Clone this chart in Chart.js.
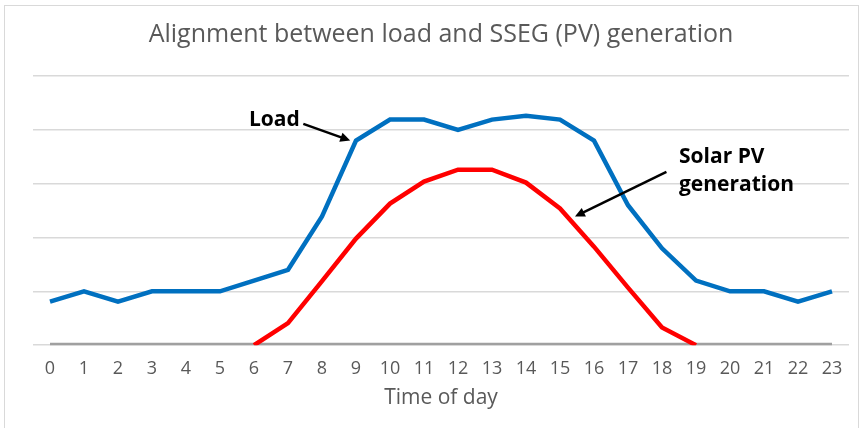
<!DOCTYPE html>
<html>
<head>
<meta charset="utf-8">
<script src="https://cdn.jsdelivr.net/npm/chart.js@4/dist/chart.umd.min.js"></script>
<style>
  html, body { margin: 0; padding: 0; background: #fff; }
  .frame { position: absolute; left: 4px; top: 5px; width: 855px; height: 430px; border: 1px solid #d9d9d9; box-sizing: border-box; }
  .canvas { position: absolute; left: 0; top: 0; width: 864px; height: 428px; }
</style>
</head>
<body>
<div class="frame"></div>
<div class="canvas"><canvas id="loadChart" width="864" height="428"></canvas></div>
<script>
const hours = ['0','1','2','3','4','5','6','7','8','9','10','11','12','13','14','15','16','17','18','19','20','21','22','23'];
const loadValues = [0.81, 1.0, 0.81, 1.0, 1.0, 1.0, 1.2, 1.4, 2.39, 3.8, 4.19, 4.19, 4.0, 4.19, 4.26, 4.19, 3.8, 2.6, 1.8, 1.2, 1.0, 1.0, 0.81, 1.0];
const solarValues = [null, null, null, null, null, null, 0, 0.41, 1.19, 1.98, 2.63, 3.04, 3.26, 3.26, 3.02, 2.54, 1.83, 1.07, 0.33, 0, null, null, null, null];
const baseValues = [0, 0, 0, 0, 0, 0, 0, 0, 0, 0, 0, 0, 0, 0, 0, 0, 0, 0, 0, 0, 0, 0, 0, 0];

// annotation labels and arrows, in data units (category index, value)
const loadLabel = { text: ['Load'], x: 6.6, y: 4.19, align: 'center' };
const loadArrow = { from: [7.45, 4.11], to: [8.83, 3.8] };
const solarLabel = { text: ['Solar PV', 'generation'], x: 18.5, y: 3.49, align: 'left' };
const solarArrow = { from: [18.13, 3.22], to: [15.44, 2.39] };

const annotations = {
  id: 'annotations',
  afterDatasetsDraw(chart) {
    const { ctx, scales: { x, y } } = chart;
    const px = v => x.getPixelForValue(0) + v * (x.getPixelForValue(1) - x.getPixelForValue(0));
    ctx.save();
    ctx.fillStyle = '#000';
    ctx.strokeStyle = '#000';
    ctx.font = 'bold 21px "Open Sans", sans-serif';
    ctx.textBaseline = 'middle';
    [loadLabel, solarLabel].forEach(l => {
      ctx.textAlign = l.align;
      l.text.forEach((t, i) => ctx.fillText(t, px(l.x), y.getPixelForValue(l.y) + i * 28));
    });
    [loadArrow, solarArrow].forEach(a => {
      const x1 = px(a.from[0]), y1 = y.getPixelForValue(a.from[1]);
      const x2 = px(a.to[0]), y2 = y.getPixelForValue(a.to[1]);
      const ang = Math.atan2(y2 - y1, x2 - x1);
      const hl = 11;
      ctx.lineWidth = 2.5;
      ctx.beginPath();
      ctx.moveTo(x1, y1);
      ctx.lineTo(x2 - Math.cos(ang) * hl * 0.8, y2 - Math.sin(ang) * hl * 0.8);
      ctx.stroke();
      ctx.beginPath();
      ctx.moveTo(x2, y2);
      ctx.lineTo(x2 - hl * Math.cos(ang - 0.45), y2 - hl * Math.sin(ang - 0.45));
      ctx.lineTo(x2 - hl * Math.cos(ang + 0.45), y2 - hl * Math.sin(ang + 0.45));
      ctx.closePath();
      ctx.fill();
    });
    ctx.restore();
  }
};

const ctx = document.getElementById('loadChart').getContext('2d');
new Chart(ctx, {
  type: 'line',
  data: {
    labels: hours,
    datasets: [
      { label: 'Solar PV generation', data: solarValues, borderColor: '#ff0000', borderWidth: 4.5, pointRadius: 0, tension: 0, order: 1 },
      { label: 'Load', data: loadValues, borderColor: '#0070c0', borderWidth: 4.5, pointRadius: 0, tension: 0, order: 0 },
      { label: 'Base', data: baseValues, borderColor: '#a0a0a0', borderWidth: 5, pointRadius: 0, tension: 0, order: 2 }
    ]
  },
  plugins: [annotations],
  options: {
    responsive: false,
    animation: false,
    layout: { padding: { left: 33, right: 15, top: 0, bottom: 17 } },
    plugins: {
      legend: { display: false },
      tooltip: { enabled: false },
      title: {
        display: true,
        text: 'Alignment between load and SSEG (PV) generation',
        color: '#595959',
        font: { family: '"Open Sans", sans-serif', size: 25, weight: 'normal' },
        padding: { top: 20, bottom: 26 }
      }
    },
    scales: {
      x: {
        offset: true,
        grid: { display: false, drawTicks: false },
        border: { display: false },
        ticks: { color: '#595959', font: { family: '"Open Sans", sans-serif', size: 18 }, maxRotation: 0, autoSkip: false, padding: 13 },
        title: { display: true, text: 'Time of day', color: '#595959', font: { family: '"Open Sans", sans-serif', size: 21 }, padding: { top: -7, bottom: 0 } }
      },
      y: {
        min: 0,
        max: 5,
        ticks: { display: false, stepSize: 1 },
        border: { display: false },
        grid: { color: '#d9d9d9', lineWidth: 1.5, drawTicks: false }
      }
    }
  }
});
</script>
</body>
</html>
